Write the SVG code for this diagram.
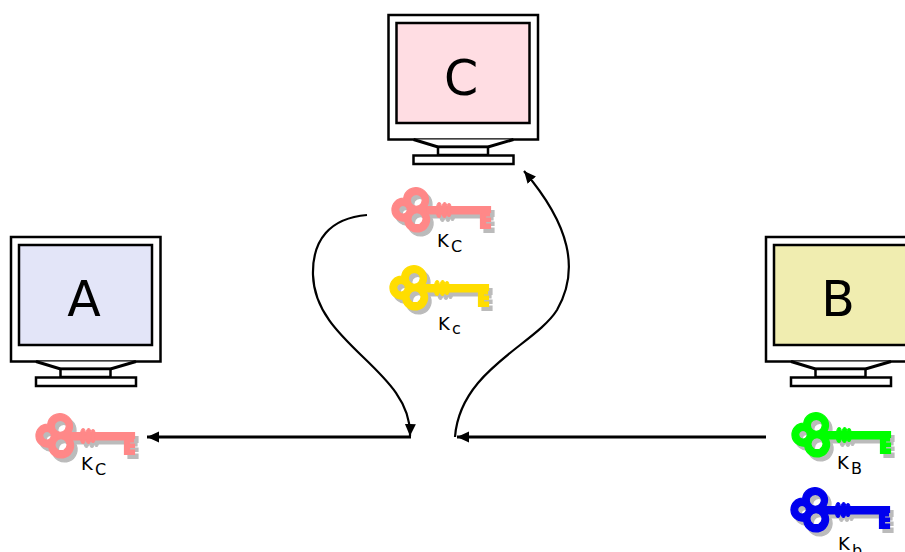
<svg xmlns="http://www.w3.org/2000/svg" width="905" height="552" viewBox="0 0 905 552">
<style>
.m{fill:#fff;stroke:#000;stroke-width:2.5}
.n{fill:#fff;stroke:#000;stroke-width:3}
.t{font-family:"DejaVu Sans",sans-serif;fill:#000}
.big{font-size:49px;text-anchor:middle}
.k{font-size:18px}
.b{font-size:16px}
.c{fill:none;stroke:#000;stroke-width:2.2}
.h{stroke-width:3}
.sh{fill:#bbb;stroke:#bbb}
.scr{stroke:#000;stroke-width:2.5}
.ks{stroke-width:1.2}
</style>
<defs>
<marker id="ah" markerUnits="userSpaceOnUse" markerWidth="14" markerHeight="12" refX="12" refY="5.5" orient="auto"><path d="M0,0L12,5.5L0,11Z" fill="#000"/></marker>
<g id="keyshape" class="ks">
<path fill-rule="evenodd" d="M35,18A12.5,12.5 0 1 0 11.65,10.17A11.5,11.5 0 1 0 12.7,33.1A12.5,12.5 0 1 0 35.5,24.5L40,22ZM24.3,6.3a6,6 0 1 0 .01,0ZM11,17.4a4.3,4.3 0 1 0 .01,0ZM25,24.7a6,6 0 1 0 .01,0Z"/>
<path d="M34,18.5H98.500V24.500H97.500V28H93.500V30H98.500V33.500H93.500V36H98.500V40.500H88.500V26H34Z"/>
<ellipse cx="47" cy="22" rx="2.600" ry="7.500"/><ellipse cx="52.500" cy="22" rx="2.600" ry="7.500"/><ellipse cx="57" cy="22" rx="2.200" ry="6.500"/>
</g>
<g id="key"><use href="#keyshape" class="sh" x="3.500" y="4"/><use href="#keyshape"/></g>
<g id="mon">
<rect class="m" x="0" y="0" width="149.500" height="124.500"/>
<path class="n" d="M25,124.500L49.500,132H99.500L125,124.500"/>
<rect class="m" x="49.500" y="132" width="50" height="8"/>
<rect class="m" x="25" y="140.500" width="100" height="8.500"/>
</g>
</defs>
<g id="connectors">
<path class="c h" d="M766,437H457" marker-end="url(#ah)"/>
<path class="c h" d="M411,437H147" marker-end="url(#ah)"/>
<path class="c" d="M367,215C330,218 312,240 313,275C315,345 412,370 410,436" marker-end="url(#ah)"/>
<path class="c" d="M455,437C460,370 535,345 557,310C580,270 570,225 524,171" marker-end="url(#ah)"/>
</g>
<g id="node-C">
<use href="#mon" x="388.500" y="15"/>
<rect class="scr" x="396.500" y="23" width="133" height="100" fill="#ffdde3"/>
<text class="t big" x="461" y="95">C</text>
</g>
<g id="node-A">
<use href="#mon" x="11" y="237"/>
<rect class="scr" x="19" y="245" width="133" height="100" fill="#e3e5f8"/>
<text class="t big" x="84" y="316">A</text>
</g>
<g id="node-B">
<use href="#mon" x="766" y="237"/>
<rect class="scr" x="774" y="245" width="133" height="100" fill="#f0edb0"/>
<text class="t big" x="838" y="316">B</text>
</g>
<g id="key-C-pink">
<use href="#key" x="392" y="188" fill="#ff8888" stroke="#ff8888"/>
<text class="t k" x="437" y="247">K</text><text class="t b" x="451" y="252">C</text>
</g>
<g id="key-C-yellow">
<use href="#key" x="390" y="266" fill="#ffdd00" stroke="#ffdd00"/>
<text class="t k" x="438" y="330">K</text><text class="t b" x="452" y="334">c</text>
</g>
<g id="key-A">
<use href="#key" x="36" y="414" fill="#ff8888" stroke="#ff8888"/>
<text class="t k" x="81" y="470">K</text><text class="t b" x="95" y="475">C</text>
</g>
<g id="key-B-green">
<use href="#key" x="792" y="413" fill="#00ff00" stroke="#00ff00"/>
<text class="t k" x="837" y="469">K</text><text class="t b" x="851" y="474">B</text>
</g>
<g id="key-B-blue">
<use href="#key" x="791" y="488" fill="#0000ee" stroke="#0000ee"/>
<text class="t k" x="838" y="550">K</text><text class="t b" x="852" y="556">b</text>
</g>
</svg>
